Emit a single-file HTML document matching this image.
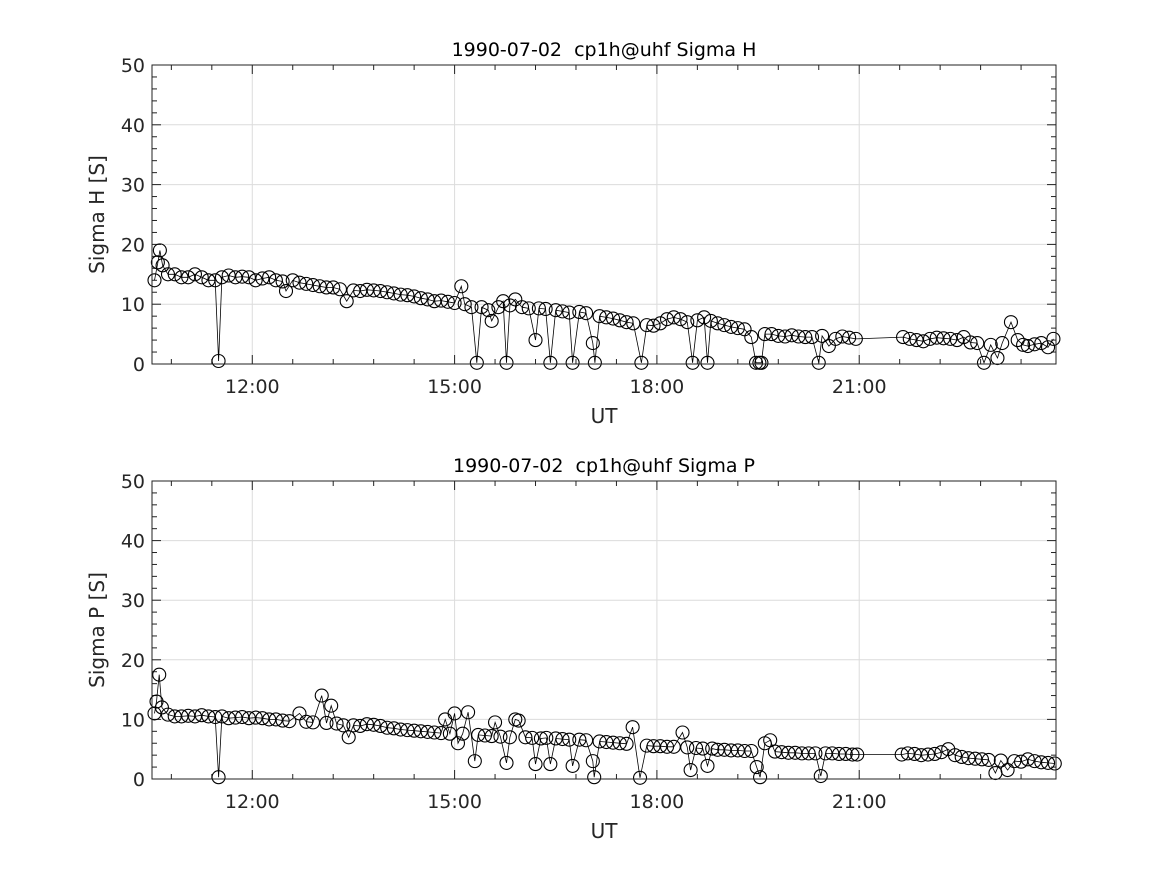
<!DOCTYPE html>
<html><head><meta charset="utf-8"><style>
body{margin:0;background:#fff;}
svg{display:block;font-family:"DejaVu Sans","Liberation Sans",sans-serif;}
text{white-space:pre;}
</style></head><body>
<svg id="fig" width="1167" height="875" viewBox="0 0 1167 875">
<rect width="1167" height="875" fill="#fff"/>
</svg>
<script>
const xTicks=[12,15,18,21];
const xTickLabels=["12:00","15:00","18:00","21:00"];
const yTicks=[0,10,20,30,40,50];
const hTimes=[10.55,10.6,10.63,10.67,10.75,10.85,10.95,11.05,11.15,11.25,11.35,11.45,11.5,11.55,11.65,11.75,11.85,11.95,12.05,12.15,12.25,12.35,12.45,12.5,12.6,12.7,12.8,12.9,13.0,13.1,13.2,13.3,13.4,13.5,13.6,13.7,13.8,13.9,14.0,14.1,14.2,14.3,14.4,14.5,14.6,14.7,14.8,14.9,15.0,15.1,15.15,15.25,15.33,15.4,15.5,15.55,15.65,15.72,15.77,15.82,15.9,16.0,16.1,16.2,16.25,16.35,16.42,16.5,16.6,16.7,16.75,16.85,16.95,17.05,17.08,17.15,17.25,17.35,17.45,17.55,17.65,17.77,17.85,17.95,18.05,18.15,18.25,18.35,18.45,18.53,18.6,18.7,18.75,18.8,18.9,19.0,19.1,19.2,19.3,19.4,19.47,19.52,19.55,19.6,19.7,19.8,19.9,20.0,20.1,20.2,20.3,20.4,20.45,20.55,20.65,20.75,20.85,20.95,21.65,21.75,21.85,21.95,22.05,22.15,22.25,22.35,22.45,22.55,22.65,22.75,22.85,22.95,23.05,23.12,23.25,23.35,23.43,23.5,23.6,23.7,23.8,23.88];
const hValues=[14,17,19,16.5,15,15,14.5,14.5,15,14.5,14,14,0.5,14.5,14.8,14.5,14.6,14.5,14,14.3,14.5,14,13.8,12.2,14,13.6,13.4,13.2,13,12.8,12.8,12.5,10.5,12.3,12.2,12.4,12.3,12.2,12,11.8,11.6,11.5,11.3,11,10.8,10.5,10.6,10.4,10.2,13,10,9.5,0.2,9.5,9,7.2,9.5,10.5,0.2,9.8,10.8,9.5,9.3,4,9.3,9.2,0.2,9,8.8,8.6,0.2,8.7,8.5,3.5,0.2,8,7.8,7.6,7.3,7,6.8,0.2,6.5,6.4,6.8,7.5,7.8,7.5,7,0.2,7.3,7.8,0.2,7.2,6.8,6.5,6.2,6,5.8,4.5,0.2,0.2,0.2,5,5,4.7,4.6,4.8,4.6,4.5,4.5,0.2,4.7,3,4.2,4.6,4.4,4.2,4.5,4.2,4,3.8,4.2,4.4,4.3,4.2,4,4.5,3.6,3.5,0.2,3.2,1,3.5,7,4,3.2,3,3.3,3.5,2.8,4.2];
const pTimes=[10.55,10.58,10.62,10.66,10.75,10.85,10.95,11.05,11.15,11.25,11.35,11.45,11.5,11.55,11.65,11.75,11.85,11.95,12.05,12.15,12.25,12.35,12.45,12.55,12.7,12.8,12.9,13.03,13.1,13.17,13.25,13.35,13.43,13.5,13.6,13.7,13.8,13.9,14.0,14.1,14.2,14.3,14.4,14.5,14.6,14.7,14.8,14.86,14.93,15.0,15.05,15.12,15.2,15.3,15.35,15.45,15.55,15.6,15.68,15.77,15.82,15.9,15.95,16.05,16.15,16.2,16.28,16.36,16.42,16.5,16.6,16.7,16.75,16.85,16.95,17.05,17.07,17.15,17.25,17.35,17.45,17.55,17.64,17.75,17.85,17.95,18.05,18.15,18.25,18.38,18.45,18.5,18.58,18.68,18.75,18.82,18.9,19.0,19.1,19.2,19.3,19.4,19.48,19.53,19.6,19.68,19.75,19.85,19.95,20.05,20.15,20.25,20.35,20.43,20.5,20.6,20.7,20.8,20.9,20.97,21.63,21.72,21.82,21.92,22.02,22.12,22.22,22.32,22.42,22.52,22.62,22.72,22.82,22.92,23.02,23.1,23.2,23.3,23.4,23.5,23.6,23.7,23.8,23.9];
const pValues=[11,13,17.5,12,10.8,10.5,10.5,10.6,10.5,10.7,10.5,10.4,0.3,10.5,10.2,10.3,10.4,10.2,10.3,10.2,10,10,9.8,9.7,11,9.6,9.5,14,9.4,12.3,9.3,9,7,9,8.9,9.2,9.1,8.9,8.6,8.5,8.3,8.2,8.1,8,7.9,7.8,7.7,10,7.6,11,6,7.6,11.2,3,7.4,7.3,7.2,9.5,7.1,2.7,7,10,9.8,7,6.9,2.5,6.8,6.9,2.5,6.8,6.7,6.6,2.2,6.6,6.5,3,0.3,6.3,6.2,6.1,6,5.9,8.7,0.2,5.6,5.5,5.5,5.4,5.4,7.8,5.3,1.5,5.2,5.1,2.2,5.1,4.9,4.9,4.8,4.8,4.7,4.7,2,0.3,6,6.5,4.6,4.5,4.4,4.4,4.3,4.3,4.3,0.5,4.3,4.3,4.2,4.2,4.1,4.1,4.1,4.3,4.2,4,4.1,4.2,4.5,5,4,3.7,3.5,3.4,3.3,3.2,1,3.1,1.5,3,2.9,3.3,3,2.8,2.7,2.6,3];
const NS="http://www.w3.org/2000/svg";
const fig=document.getElementById('fig');
function mk(tag,attrs,parent){const e=document.createElementNS(NS,tag);for(const k in attrs)e.setAttribute(k,attrs[k]);(parent||fig).appendChild(e);return e;}
const X0=152,X1=1056,T0=10.513,T1=23.918;
function xs(t){return X0+(t-T0)/(T1-T0)*(X1-X0);}
function drawPanel(top,bottom,title,ylabel,times,vals,key){
  const g=mk('g',{});
  
  
  const ys=v=>bottom-v/50*(bottom-top);
  xTicks.forEach(t=>{const l=mk('line',{x1:xs(t),x2:xs(t),y1:top,y2:bottom,stroke:'#dcdcdc','stroke-width':1},g);});
  yTicks.forEach(v=>{const l=mk('line',{x1:X0,x2:X1,y1:ys(v),y2:ys(v),stroke:'#dcdcdc','stroke-width':1},g);});
  for(let t=12-1.2;t<=T1;t+=0.6){if(t<T0)continue;const len=Math.abs((t-12)/3-Math.round((t-12)/3))<0.01?9:5;
    mk('line',{x1:xs(t),x2:xs(t),y1:bottom,y2:bottom-len,stroke:'#222','stroke-width':1},g);
    mk('line',{x1:xs(t),x2:xs(t),y1:top,y2:top+len,stroke:'#222','stroke-width':1},g);}
  for(let v=0;v<=50;v+=2){const len=v%10===0?9:5;
    mk('line',{x1:X0,x2:X0+len,y1:ys(v),y2:ys(v),stroke:'#222','stroke-width':1},g);
    mk('line',{x1:X1,x2:X1-len,y1:ys(v),y2:ys(v),stroke:'#222','stroke-width':1},g);}
  const pts=times.map((t,i)=>xs(t).toFixed(1)+','+ys(vals[i]).toFixed(1)).join(' ');
  const pl=mk('polyline',{points:pts,fill:'none',stroke:'#000','stroke-width':0.8},g);
  
  
  times.forEach((t,i)=>{const c=mk('circle',{cx:xs(t),cy:ys(vals[i]),r:6.5,fill:'none',stroke:'#000','stroke-width':1.1},g);
    
    });
  const b=mk('rect',{x:X0,y:top,width:X1-X0,height:bottom-top,fill:'none',stroke:'#222','stroke-width':1},g);
  
  
  yTicks.forEach(v=>{const tx=mk('text',{x:X0-7,y:ys(v)+7,'text-anchor':'end','font-size':19,fill:'#262626'},g);tx.textContent=v;
    });
  xTicks.forEach((t,i)=>{const tx=mk('text',{x:xs(t),y:bottom+29,'text-anchor':'middle','font-size':19,fill:'#262626'},g);tx.textContent=xTickLabels[i];
    });
  const xl=mk('text',{x:(X0+X1)/2,y:bottom+59,'text-anchor':'middle','font-size':20,fill:'#262626'},g);xl.textContent='UT';
  
  const yl=mk('text',{x:0,y:0,'text-anchor':'middle','font-size':20,fill:'#262626',transform:`translate(104,${(top+bottom)/2}) rotate(-90)`},g);yl.textContent=ylabel;
  
  const tt=mk('text',{x:(X0+X1)/2,y:top-9,'text-anchor':'middle','font-size':19,fill:'#000'},g);tt.textContent=title;
  
}
drawPanel(65,364,'1990-07-02\u00a0\u00a0cp1h@uhf Sigma H','Sigma H [S]',hTimes,hValues,'sigma-h');
drawPanel(481,779,'1990-07-02\u00a0\u00a0cp1h@uhf Sigma P','Sigma P [S]',pTimes,pValues,'sigma-p');
</script>
</body></html>
